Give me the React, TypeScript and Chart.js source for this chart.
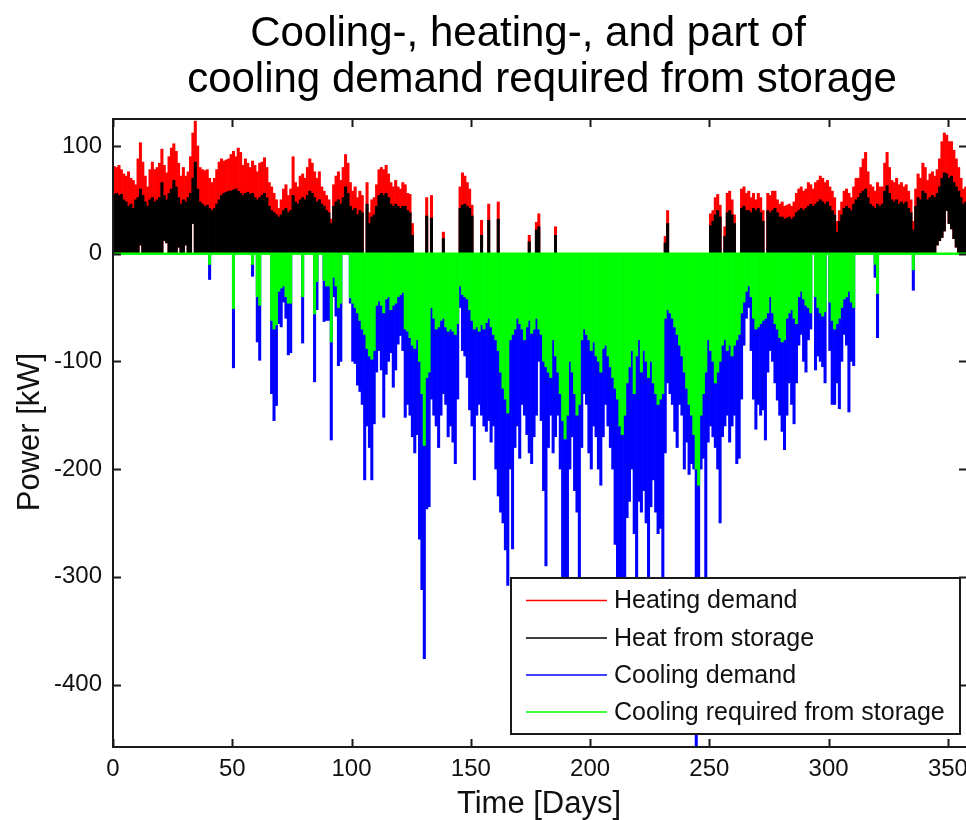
import React, { useEffect, useRef } from "react";
import { Chart, registerables } from "chart.js";

Chart.register(...registerables);

// ---------- text ----------
const titleLines = ["Cooling-, heating-, and part of", "cooling demand required from storage"];
const xAxisTitle = "Time [Days]";
const yAxisTitle = "Power [kW]";
const seriesNames = ["Heating demand", "Heat from storage", "Cooling demand", "Cooling required from storage"];
const seriesColors = ["#ff0000", "#000000", "#0000ff", "#00ff00"];

// ---------- axes ----------
const xTicks = [0, 50, 100, 150, 200, 250, 300, 350];
const yTicks = [100, 0, -100, -200, -300, -400];
const xMin = 0;
const xMax = 358;
const yMin = -458;
const yMax = 125;

// ---------- data (daily peak values, kW; index = day) ----------
const heatingDemand = [
  81, 80, 82, 78, 74, 72, 76, 70, 68, 64,
  88, 103, 85, 72, 62, 78, 85, 78, 80, 84,
  97, 82, 75, 90, 98, 102, 95, 84, 72, 80,
  72, 76, 90, 112, 123, 100, 80, 78, 77, 78,
  70, 66, 70, 78, 85, 88, 86, 87, 88, 92,
  95, 90, 98, 94, 82, 88, 84, 80, 86, 82,
  76, 84, 85, 89, 80, 66, 62, 56, 50, 42,
  50, 60, 64, 54, 60, 90, 66, 62, 72, 74,
  70, 80, 88, 84, 76, 70, 76, 62, 58, 54,
  50, 32, 64, 72, 76, 68, 80, 92, 84, 66,
  58, 62, 52, 58, 54, 0, 66, 38, 50, 52,
  64, 78, 80, 78, 82, 74, 66, 62, 68, 62,
  60, 66, 64, 56, 55, 28, 0, 0, 0, 0,
  0, 52, 0, 54, 0, 0, 0, 0, 20, 0,
  0, 0, 0, 0, 0, 62, 75, 72, 66, 60,
  45, 0, 0, 0, 31, 0, 0, 46, 0, 0,
  0, 48, 0, 0, 0, 0, 0, 0, 0, 0,
  0, 0, 0, 0, 17, 0, 0, 29, 37, 0,
  0, 0, 0, 0, 0, 25, 0, 0, 0, 0,
  0, 0, 0, 0, 0, 0, 0, 0, 0, 0,
  0, 0, 0, 0, 0, 0, 0, 0, 0, 0,
  0, 0, 0, 0, 0, 0, 0, 0, 0, 0,
  0, 0, 0, 0, 0, 0, 0, 0, 0, 0,
  0, 16, 40, 0, 0, 0, 0, 0, 0, 0,
  0, 0, 0, 0, 0, 0, 0, 0, 0, 0,
  37, 40, 52, 55, 45, 0, 25, 56, 58, 50,
  36, 0, 0, 60, 62, 56, 58, 52, 56, 50,
  56, 52, 40, 0, 56, 54, 58, 58, 50, 46,
  48, 44, 45, 46, 44, 48, 56, 60, 62, 58,
  60, 66, 64, 60, 66, 68, 72, 70, 66, 68,
  62, 58, 52, 30, 40, 48, 58, 60, 56, 52,
  62, 70, 70, 80, 88, 94, 76, 64, 62, 58,
  66, 62, 62, 84, 94, 80, 68, 66, 70, 64,
  66, 62, 64, 58, 50, 30, 60, 74, 70, 84,
  80, 68, 74, 76, 72, 78, 88, 104, 112, 110,
  104, 104, 96, 88, 80, 70, 60, 62,
];

const heatFromStorage = [
  55, 56, 54, 55, 50, 48, 44, 46, 42, 50,
  52, 60, 54, 48, 44, 50, 52, 48, 50, 52,
  66, 54, 50, 56, 60, 68, 62, 52, 46, 50,
  48, 52, 56, 70, 85, 60, 48, 46, 44, 45,
  42, 40, 42, 46, 50, 54, 56, 57, 58, 58,
  59, 60, 58, 56, 54, 56, 57, 55, 56, 52,
  50, 52, 54, 56, 52, 44, 40, 38, 36, 34,
  36, 40, 42, 38, 40, 54, 48, 46, 50, 52,
  50, 54, 58, 56, 52, 48, 50, 46, 44, 40,
  38, 28, 44, 48, 50, 46, 52, 62, 56, 44,
  40, 42, 36, 40, 38, 0, 46, 28, 34, 36,
  44, 54, 56, 54, 56, 52, 46, 44, 46, 44,
  42, 44, 44, 40, 38, 17, 0, 0, 0, 0,
  0, 35, 0, 33, 0, 0, 0, 0, 14, 0,
  0, 0, 0, 0, 0, 42, 45, 46, 44, 42,
  35, 0, 0, 0, 17, 0, 0, 31, 0, 0,
  0, 32, 0, 0, 0, 0, 0, 0, 0, 0,
  0, 0, 0, 0, 11, 0, 0, 22, 25, 0,
  0, 0, 0, 0, 0, 17, 0, 0, 0, 0,
  0, 0, 0, 0, 0, 0, 0, 0, 0, 0,
  0, 0, 0, 0, 0, 0, 0, 0, 0, 0,
  0, 0, 0, 0, 0, 0, 0, 0, 0, 0,
  0, 0, 0, 0, 0, 0, 0, 0, 0, 0,
  0, 10, 28, 0, 0, 0, 0, 0, 0, 0,
  0, 0, 0, 0, 0, 0, 0, 0, 0, 0,
  26, 30, 36, 40, 34, 0, 16, 38, 40, 36,
  28, 0, 0, 42, 44, 40, 40, 38, 42, 40,
  42, 38, 30, 0, 40, 38, 40, 42, 38, 34,
  34, 32, 33, 34, 32, 34, 38, 40, 42, 40,
  42, 44, 46, 44, 46, 48, 50, 48, 46, 48,
  44, 40, 36, 20, 30, 36, 42, 44, 42, 40,
  46, 50, 52, 56, 58, 60, 52, 46, 44, 42,
  46, 44, 46, 58, 63, 56, 50, 48, 50, 46,
  48, 46, 48, 42, 38, 22, 44, 52, 50, 58,
  56, 50, 52, 54, 52, 56, 62, 70, 75, 74,
  70, 72, 66, 62, 58, 52, 46, 48,
];

// days on which heating never drops to zero (lower edge of the daily band)
const heatFloorDays = [11, 21, 22, 27, 30, 33, 345, 346, 347, 348, 349, 350, 351, 352, 353];
const heatFloorValues = [8, 12, 10, 6, 8, 28, 8, 12, 15, 21, 40, 28, 23, 14, 6];

const coolingDemand = [
  0, 0, 0, 0, 0, 0, 0, 0, 0, 0,
  0, 0, 0, 0, 0, 0, 0, 0, 0, 0,
  0, 0, 0, 0, 0, 0, 0, 0, 0, 0,
  0, 0, 0, 0, 0, 0, 0, 0, 0, 0,
  -24, 0, 0, 0, 0, 0, 0, 0, 0, 0,
  -106, 0, 0, 0, 0, 0, 0, 0, -21, 0,
  -82, -99, 0, 0, 0, 0, -130, -155, -141, -65,
  -68, -45, -60, -94, -92, 0, 0, 0, 0, -83,
  0, 0, 0, 0, -119, -52, 0, 0, -63, -62,
  -62, -173, -40, -58, -104, -100, 0, 0, 0, -46,
  -100, -102, -122, -128, -140, -210, -160, -180, -210, -158,
  -110, -90, -108, -152, -112, -100, -92, -124, -108, -84,
  -76, -90, -152, -140, -150, -170, -185, -168, -265, -312,
  -376, -237, -235, -135, -150, -160, -180, -150, -130, -140,
  -170, -160, -175, -195, -135, -50, -90, -95, -115, -145,
  -160, -210, -150, -140, -150, -160, -165, -155, -175, -160,
  -200, -225, -240, -250, -275, -308, -200, -274, -180, -160,
  -190, -140, -150, -168, -185, -195, -170, -150, -100, -155,
  -220, -290, -180, -150, -185, -170, -150, -200, -330, -340,
  -320, -200, -170, -220, -240, -320, -180, -130, -140, -185,
  -200, -160, -170, -200, -215, -170, -140, -160, -180, -200,
  -270, -320, -330, -340, -310, -245, -230, -200, -260, -315,
  -230, -240, -220, -250, -320, -235, -210, -240, -260, -255,
  -320, -185, -120, -130, -140, -165, -180, -140, -150, -200,
  -175, -205, -195, -200, -458, -330, -200, -190, -320, -175,
  -160, -170, -180, -200, -250, -170, -160, -150, -175, -160,
  -150, -195, -190, -135, -85, -60, -50, -90, -135, -163,
  -140, -150, -145, -173, -110, -90, -100, -120, -136, -150,
  -165, -182, -150, -120, -140, -158, -120, -85, -75, -100,
  -110, -80, -70, 0, -108, -95, -100, -105, -120, 0,
  -90, -140, -140, -120, -144, -100, -75, -85, -147, -100,
  -104, 0, 0, 0, 0, 0, 0, 0, 0, -22,
  -78, 0, 0, 0, 0, 0, 0, 0, 0, 0,
  0, 0, 0, 0, 0, -34, 0, 0, 0, 0,
  0, 0, 0, 0, 0, 0, 0, 0, 0, 0,
  0, 0, 0, 0, 0, 0, 0, 0,
];

const coolingFromStorage = [
  0, 0, 0, 0, 0, 0, 0, 0, 0, 0,
  0, 0, 0, 0, 0, 0, 0, 0, 0, 0,
  0, 0, 0, 0, 0, 0, 0, 0, 0, 0,
  0, 0, 0, 0, 0, 0, 0, 0, 0, 0,
  -10, 0, 0, 0, 0, 0, 0, 0, 0, 0,
  -51, 0, 0, 0, 0, 0, 0, 0, -10, 0,
  -40, -48, 0, 0, 0, 0, -62, -70, -66, -35,
  -32, -30, -40, -46, -46, 0, 0, 0, 0, -40,
  0, 0, 0, 0, -56, -26, 0, 0, -25, -30,
  -30, -82, -22, -30, -50, -46, 0, 0, 0, -41,
  -46, -50, -55, -62, -70, -75, -88, -95, -98, -90,
  -48, -44, -48, -55, -42, -40, -52, -48, -46, -40,
  -38, -36, -70, -72, -78, -85, -88, -80, -100, -130,
  -178, -115, -110, -50, -60, -70, -68, -62, -60, -68,
  -72, -70, -72, -75, -65, -30, -38, -40, -42, -52,
  -62, -70, -68, -72, -66, -70, -64, -60, -68, -75,
  -80, -90, -110, -125, -135, -148, -80, -75, -70, -60,
  -65, -70, -80, -68, -62, -74, -70, -60, -70, -75,
  -100, -105, -110, -115, -80, -95, -110, -130, -155, -172,
  -150, -100, -110, -130, -150, -140, -80, -70, -75, -80,
  -90, -82, -95, -100, -110, -88, -85, -95, -105, -115,
  -125, -135, -160, -168, -150, -120, -105, -90, -130, -95,
  -80, -110, -90, -100, -115, -100, -120, -130, -140, -135,
  -130, -60, -52, -55, -60, -68, -75, -85, -95, -110,
  -125, -140, -150, -168, -200, -215, -150, -130, -110, -80,
  -90, -100, -120, -110, -100, -85, -80, -90, -85, -95,
  -85, -80, -75, -55, -45, -35, -30, -40, -60, -70,
  -68, -65, -62, -60, -55, -40, -55, -65, -70, -78,
  -82, -80, -60, -55, -52, -60, -65, -40, -35, -42,
  -48, -50, -55, 0, -40, -50, -55, -58, -54, 0,
  -45, -62, -70, -65, -60, -50, -42, -40, -35, -45,
  -50, 0, 0, 0, 0, 0, 0, 0, 0, -10,
  -37, 0, 0, 0, 0, 0, 0, 0, 0, 0,
  0, 0, 0, 0, 0, -15, 0, 0, 0, 0,
  0, 0, 0, 0, 0, 0, 0, 0, 0, 0,
  0, 0, 0, 0, 0, 0, 0, 0,
];

const FONT = '"Liberation Sans", Arial, Helvetica, sans-serif';

function floorOf(day: number): number {
  const k = heatFloorDays.indexOf(day);
  return k >= 0 ? heatFloorValues[k] : 0;
}

const decorPlugin = {
  id: "decor",
  afterDatasetsDraw(chart: any) {
    const { ctx, chartArea: a, scales } = chart;
    const xs = scales.x;
    const ys = scales.y;
    ctx.save();
    // box
    ctx.strokeStyle = "#1a1a1a";
    ctx.lineWidth = 2;
    ctx.strokeRect(a.left, a.top, a.right - a.left, a.bottom - a.top);
    // inward ticks
    const tl = 8;
    ctx.beginPath();
    xTicks.forEach((v) => {
      const px = Math.round(xs.getPixelForValue(v)) + 0.5;
      ctx.moveTo(px, a.bottom);
      ctx.lineTo(px, a.bottom - tl);
      ctx.moveTo(px, a.top);
      ctx.lineTo(px, a.top + tl);
    });
    yTicks.forEach((v) => {
      const py = Math.round(ys.getPixelForValue(v)) + 0.5;
      ctx.moveTo(a.left, py);
      ctx.lineTo(a.left + tl, py);
      ctx.moveTo(a.right, py);
      ctx.lineTo(a.right - tl, py);
    });
    ctx.lineWidth = 2;
    ctx.stroke();

    // legend
    const lw = 449;
    const lh = 156;
    const lx = a.right - 7 - lw;
    const ly = a.bottom - 13 - lh;
    ctx.fillStyle = "#ffffff";
    ctx.fillRect(lx, ly, lw, lh);
    ctx.strokeStyle = "#1a1a1a";
    ctx.lineWidth = 2;
    ctx.strokeRect(lx, ly, lw, lh);
    const rows = [22.5, 60, 97, 134];
    ctx.font = `25px ${FONT}`;
    ctx.textBaseline = "middle";
    ctx.textAlign = "left";
    seriesNames.forEach((name, i) => {
      const yy = ly + rows[i];
      ctx.strokeStyle = seriesColors[i];
      ctx.lineWidth = 1.5;
      ctx.beginPath();
      ctx.moveTo(lx + 15, yy);
      ctx.lineTo(lx + 96, yy);
      ctx.stroke();
      ctx.fillStyle = "#111111";
      ctx.fillText(name, lx + 103, yy + 1);
    });
    ctx.restore();
  },
  afterDraw(chart: any) {
    const { ctx } = chart;
    ctx.save();
    ctx.fillStyle = "#000000";
    ctx.textAlign = "center";
    ctx.textBaseline = "middle";
    ctx.font = `42px ${FONT}`;
    ctx.fillText(titleLines[0], 528, 34);
    ctx.fillText(titleLines[1], 542, 80);
    ctx.font = `31px ${FONT}`;
    ctx.fillStyle = "#111111";
    ctx.fillText(xAxisTitle, 539, 804);
    ctx.translate(30, 432);
    ctx.rotate(-Math.PI / 2);
    ctx.fillText(yAxisTitle, 0, 0);
    ctx.restore();
  },
};

export default function App() {
  const ref = useRef<HTMLCanvasElement | null>(null);

  useEffect(() => {
    const canvas = ref.current;
    if (!canvas) return;
    const barCommon = {
      type: "bar" as const,
      grouped: false,
      barPercentage: 1,
      categoryPercentage: 1,
      borderWidth: 0,
    };
    const chart = new Chart(canvas, {
      type: "bar",
      data: {
        datasets: [
          {
            ...barCommon,
            label: seriesNames[0],
            order: 4,
            backgroundColor: seriesColors[0],
            data: heatingDemand.map((v, i) => ({ x: i + 0.5, y: [floorOf(i), v] })),
          },
          {
            ...barCommon,
            label: seriesNames[1],
            order: 3,
            backgroundColor: seriesColors[1],
            data: heatFromStorage.map((v, i) => ({ x: i + 0.5, y: [floorOf(i), v] })),
          },
          {
            ...barCommon,
            label: seriesNames[2],
            order: 2,
            backgroundColor: seriesColors[2],
            data: coolingDemand.map((v, i) => ({ x: i + 0.5, y: v })),
          },
          {
            ...barCommon,
            label: seriesNames[3],
            order: 1,
            backgroundColor: seriesColors[3],
            data: coolingFromStorage.map((v, i) => ({ x: i + 0.5, y: v })),
          },
          {
            type: "line" as const,
            label: "zero",
            order: 0,
            borderColor: seriesColors[3],
            borderWidth: 2.5,
            pointRadius: 0,
            data: [
              { x: xMin, y: 0 },
              { x: xMax, y: 0 },
            ],
          },
        ] as any,
      },
      options: {
        animation: false,
        responsive: false,
        devicePixelRatio: 1,
        layout: { padding: { left: 0, top: 119, right: 13, bottom: 0 } },
        plugins: {
          legend: { display: false },
          tooltip: { enabled: false },
          title: { display: false },
        },
        scales: {
          x: {
            type: "linear",
            min: xMin,
            max: xMax,
            offset: false,
            grid: { display: false, drawTicks: false, offset: false },
            border: { display: false },
            ticks: {
              color: "#111111",
              font: { family: FONT, size: 24 },
              padding: 8,
              maxRotation: 0,
              autoSkip: false,
            },
            afterBuildTicks: (s: any) => {
              s.ticks = xTicks.map((v) => ({ value: v }));
            },
            afterFit: (s: any) => {
              s.height = 73;
            },
          },
          y: {
            type: "linear",
            min: yMin,
            max: yMax,
            grid: { display: false, drawTicks: false },
            border: { display: false },
            ticks: {
              color: "#111111",
              font: { family: FONT, size: 24 },
              padding: 11,
              autoSkip: false,
            },
            afterBuildTicks: (s: any) => {
              s.ticks = yTicks.map((v) => ({ value: v }));
            },
            afterFit: (s: any) => {
              s.width = 113;
            },
          },
        },
      } as any,
      plugins: [decorPlugin],
    });
    return () => chart.destroy();
  }, []);

  return (
    <div
      style={{
        position: "fixed",
        left: 0,
        top: 0,
        width: 966,
        height: 820,
        overflow: "hidden",
        background: "#ffffff",
      }}
    >
      <canvas ref={ref} width={980} height={820} style={{ display: "block", width: 980, height: 820 }} />
    </div>
  );
}
